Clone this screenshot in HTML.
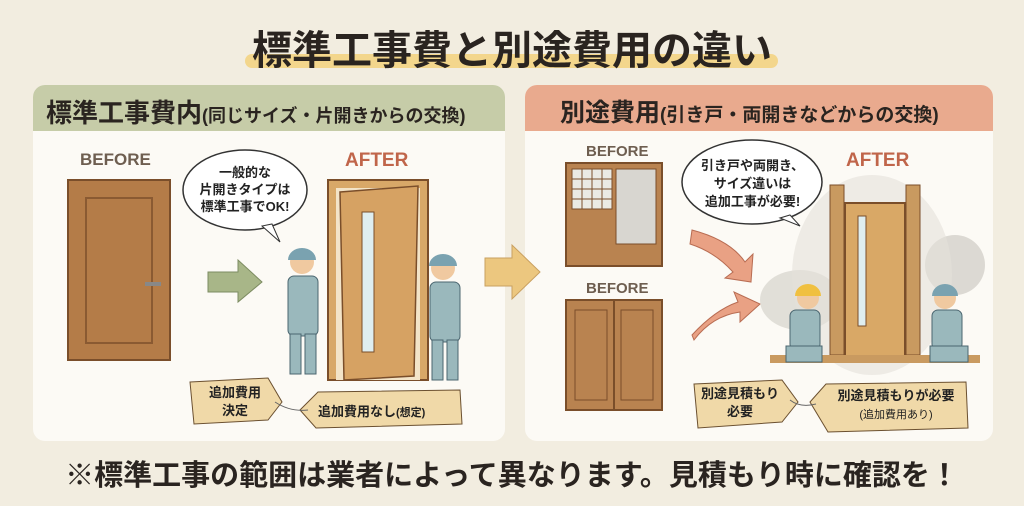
<!DOCTYPE html>
<html><head><meta charset="utf-8"><style>
body{margin:0;width:1024px;height:506px;background:#f2ede0;font-family:"Liberation Sans","Noto Sans CJK JP",sans-serif;position:relative;overflow:hidden}
.a{position:absolute}
.t{font-weight:bold;white-space:nowrap}
</style></head><body>
<div class="a" style="left:245px;top:54px;width:533px;height:14px;background:#f3d68c;border-radius:7px"></div>
<div class="a t" style="left:0;width:1024px;top:18px;text-align:center;font-size:40px;color:#2a2420">標準工事費と別途費用の違い</div>

<div class="a" style="left:33px;top:85px;width:472px;height:356px;background:#fcfaf5;border-radius:12px;overflow:hidden">
 <div style="height:46px;background:#c6cca8"></div></div>
<div class="a t" style="left:46px;top:93px;font-size:26px;color:#2a2420">標準工事費内<span style="font-size:18px">(同じサイズ・片開きからの交換)</span></div>
<div class="a" style="left:525px;top:85px;width:468px;height:356px;background:#fcfaf5;border-radius:12px;overflow:hidden">
 <div style="height:46px;background:#e9aa8e"></div></div>
<div class="a t" style="left:560px;top:93px;font-size:25px;color:#2a2420">別途費用<span style="font-size:19px">(引き戸・両開きなどからの交換)</span></div>

<svg class="a" style="left:0;top:0" width="1024" height="506">
 <polygon points="485,258 512,258 512,245 540,272 512,299 512,286 485,286" fill="#ecc77f" stroke="#c9a060"/>
 <rect x="68" y="180" width="102" height="180" fill="#b47c48" stroke="#7a4e2a" stroke-width="2"/>
 <rect x="86" y="198" width="66" height="145" fill="none" stroke="#8a5a32" stroke-width="2"/>
 <rect x="145" y="282" width="16" height="4" fill="#888"/>
 <polygon points="208,272 238,272 238,260 262,282 238,302 238,292 208,292" fill="#a8b688" stroke="#7d8c62"/>
 <ellipse cx="245" cy="190" rx="62" ry="40" fill="#fff" stroke="#333" stroke-width="1.5"/>
 <polygon points="262,226 280,242 272,224" fill="#fff" stroke="#333"/>
 <rect x="328" y="180" width="100" height="200" fill="#d8a868" stroke="#7a4e2a" stroke-width="2"/>
 <rect x="336" y="188" width="84" height="192" fill="#f3e4c8"/>
 <polygon points="340,192 418,186 414,376 344,380" fill="#d6a263" stroke="#7a4e2a" stroke-width="1.5"/>
 <rect x="362" y="212" width="12" height="140" fill="#dfeef0" stroke="#7a4e2a"/>
 <circle cx="302" cy="262" r="12" fill="#f0c9a0"/><path d="M288,260 a14,12 0 0 1 28,0 z" fill="#7aa2b0"/>
 <rect x="288" y="276" width="30" height="60" rx="6" fill="#9ab8bc" stroke="#4b6670"/>
 <rect x="290" y="334" width="11" height="40" fill="#9ab8bc" stroke="#4b6670"/><rect x="305" y="334" width="11" height="40" fill="#9ab8bc" stroke="#4b6670"/>
 <circle cx="443" cy="268" r="12" fill="#f0c9a0"/><path d="M429,266 a14,12 0 0 1 28,0 z" fill="#7aa2b0"/>
 <rect x="430" y="282" width="30" height="60" rx="6" fill="#9ab8bc" stroke="#4b6670"/>
 <rect x="432" y="340" width="11" height="40" fill="#9ab8bc" stroke="#4b6670"/><rect x="447" y="340" width="11" height="40" fill="#9ab8bc" stroke="#4b6670"/>
 <polygon points="190,382 268,378 282,402 268,420 194,424" fill="#f0d9a8" stroke="#6b5030"/>
 <polygon points="300,410 318,392 460,390 462,424 316,428" fill="#f0d9a8" stroke="#6b5030"/>
 <path d="M275,402 Q290,412 308,410" stroke="#666" fill="none"/>
 <rect x="566" y="163" width="96" height="103" fill="#b98350" stroke="#7a4e2a" stroke-width="2"/>
 <rect x="572" y="169" width="40" height="40" fill="#eaeae4" stroke="#7a4e2a"/>
 <path d="M582,169v40M592,169v40M602,169v40M572,179h40M572,189h40M572,199h40" stroke="#7a4e2a"/>
 <rect x="616" y="169" width="40" height="75" fill="#d8d6d0" stroke="#7a4e2a"/>
 <rect x="566" y="300" width="96" height="110" fill="#b98350" stroke="#7a4e2a" stroke-width="2"/>
 <rect x="575" y="310" width="32" height="90" fill="none" stroke="#7a4e2a"/><rect x="621" y="310" width="32" height="90" fill="none" stroke="#7a4e2a"/>
 <line x1="614" y1="300" x2="614" y2="410" stroke="#7a4e2a" stroke-width="2"/>
 <path d="M692,230 Q730,240 745,262 l8,-8 l-2,28 l-26,-4 l8,-6 Q715,252 690,244z" fill="#e9a184" stroke="#b86c52"/>
 <path d="M692,335 Q715,310 738,302 l-4,-10 l26,12 l-20,18 l0,-10 Q712,316 694,340z" fill="#e9a184" stroke="#b86c52"/>
 <ellipse cx="752" cy="182" rx="70" ry="42" fill="#fff" stroke="#333" stroke-width="1.5"/>
 <polygon points="790,215 800,226 780,218" fill="#fff" stroke="#333"/>
 <ellipse cx="800" cy="300" rx="40" ry="30" fill="#d6d3cc" opacity=".7"/>
 <ellipse cx="955" cy="265" rx="30" ry="30" fill="#cfcbc4" opacity=".7"/>
 <ellipse cx="872" cy="275" rx="80" ry="100" fill="#e4e1da" opacity=".6"/>
 <rect x="830" y="185" width="14" height="170" fill="#c99a60" stroke="#7a4e2a"/>
 <rect x="906" y="185" width="14" height="170" fill="#c99a60" stroke="#7a4e2a"/>
 <rect x="845" y="203" width="60" height="155" fill="#d9a866" stroke="#7a4e2a" stroke-width="2"/>
 <rect x="858" y="216" width="8" height="110" fill="#dfeef0" stroke="#7a4e2a"/>
 <rect x="770" y="355" width="210" height="8" fill="#c99a60"/>
 <circle cx="808" cy="298" r="11" fill="#f0c9a0"/><path d="M795,296 a13,12 0 0 1 26,0 z" fill="#f0c040"/>
 <rect x="790" y="310" width="30" height="40" rx="6" fill="#9ab8bc" stroke="#4b6670"/>
 <rect x="786" y="346" width="36" height="16" fill="#9ab8bc" stroke="#4b6670"/>
 <circle cx="945" cy="298" r="11" fill="#f0c9a0"/><path d="M932,296 a13,12 0 0 1 26,0 z" fill="#7aa2b0"/>
 <rect x="932" y="310" width="30" height="40" rx="6" fill="#9ab8bc" stroke="#4b6670"/>
 <rect x="930" y="346" width="38" height="16" fill="#9ab8bc" stroke="#4b6670"/>
 <polygon points="694,384 782,380 798,402 782,422 698,428" fill="#f0d9a8" stroke="#6b5030"/>
 <polygon points="810,402 826,384 966,382 968,428 828,432" fill="#f0d9a8" stroke="#6b5030"/>
 <path d="M790,400 Q800,408 816,404" stroke="#666" fill="none"/>
</svg>

<div class="a t" style="left:80px;top:150px;font-size:17px;color:#6e5e50">BEFORE</div>
<div class="a t" style="left:345px;top:150px;font-size:19px;color:#c0654a">AFTER</div>
<div class="a t" style="left:185px;top:164px;width:120px;text-align:center;font-size:13px;line-height:17px;color:#222">一般的な<br>片開きタイプは<br>標準工事でOK!</div>
<div class="a t" style="left:195px;top:384px;width:80px;text-align:center;font-size:13px;line-height:18px;color:#222">追加費用<br>決定</div>
<div class="a t" style="left:318px;top:401px;font-size:13px;color:#222">追加費用なし<span style="font-size:11px">(想定)</span></div>

<div class="a t" style="left:586px;top:143px;font-size:15px;color:#6e5e50">BEFORE</div>
<div class="a t" style="left:586px;top:280px;font-size:15px;color:#6e5e50">BEFORE</div>
<div class="a t" style="left:846px;top:150px;font-size:19px;color:#c0654a">AFTER</div>
<div class="a t" style="left:685px;top:157px;width:135px;text-align:center;font-size:13px;line-height:18px;color:#222">引き戸や両開き、<br>サイズ違いは<br>追加工事が必要!</div>
<div class="a t" style="left:696px;top:385px;width:88px;text-align:center;font-size:13px;line-height:18px;color:#222">別途見積もり<br>必要</div>
<div class="a t" style="left:826px;top:387px;width:140px;text-align:center;font-size:13px;line-height:18px;color:#222">別途見積もりが必要<br><span style="font-size:11px;font-weight:normal">(追加費用あり)</span></div>

<div class="a t" style="left:0;width:1024px;top:452px;text-align:center;font-size:29px;color:#2a2420">※標準工事の範囲は業者によって異なります。見積もり時に確認を！</div>
</body></html>
